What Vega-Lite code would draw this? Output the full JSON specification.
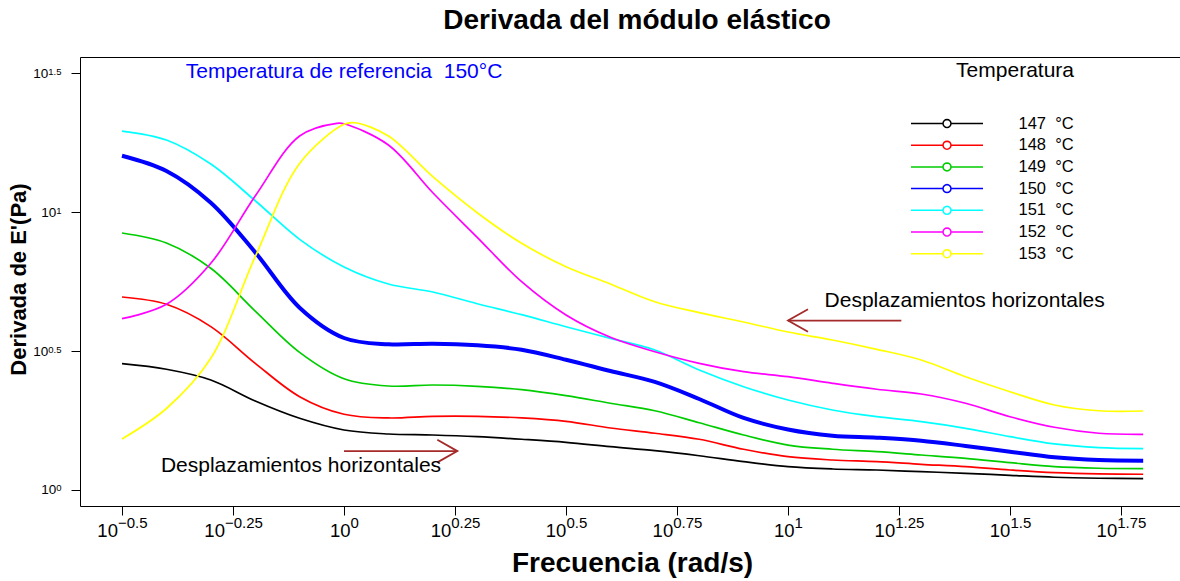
{
  "$schema": "https://vega.github.io/schema/vega-lite/v6.json",
  "autosize": {"type": "none"},
  "width": 1100,
  "height": 449,
  "padding": {"left": 80, "top": 57, "right": 0, "bottom": 75},
  "background": "white",
  "title": {
    "text": "Derivada del módulo elástico",
    "font": "Liberation Sans",
    "fontSize": 28,
    "fontWeight": "bold",
    "color": "black",
    "anchor": "middle",
    "frame": "group",
    "baseline": "alphabetic",
    "offset": 0,
    "dx": 7
  },
  "datasets": {
    "curves": [
      {"T":147,"f":0.3162,"d":2.847},{"T":147,"f":0.3981,"d":2.718},{"T":147,"f":0.5012,"d":2.487},{"T":147,"f":0.631,"d":2.090},{"T":147,"f":0.7943,"d":1.811},{"T":147,"f":1,"d":1.644},{"T":147,"f":1.2589,"d":1.590},{"T":147,"f":1.5849,"d":1.577},{"T":147,"f":1.9953,"d":1.555},{"T":147,"f":2.5119,"d":1.522},{"T":147,"f":3.1623,"d":1.484},{"T":147,"f":3.9811,"d":1.431},{"T":147,"f":5.0119,"d":1.385},{"T":147,"f":6.3096,"d":1.328},{"T":147,"f":7.9433,"d":1.264},{"T":147,"f":10,"d":1.213},{"T":147,"f":12.589,"d":1.190},{"T":147,"f":15.849,"d":1.180},{"T":147,"f":19.953,"d":1.164},{"T":147,"f":25.119,"d":1.148},{"T":147,"f":31.623,"d":1.129},{"T":147,"f":39.811,"d":1.111},{"T":147,"f":50.119,"d":1.102},{"T":147,"f":63.096,"d":1.098},
      {"T":148,"f":0.3162,"d":4.946},{"T":148,"f":0.3981,"d":4.656},{"T":148,"f":0.5012,"d":3.870},{"T":148,"f":0.631,"d":2.856},{"T":148,"f":0.7943,"d":2.166},{"T":148,"f":1,"d":1.872},{"T":148,"f":1.2589,"d":1.816},{"T":148,"f":1.5849,"d":1.841},{"T":148,"f":1.9953,"d":1.841},{"T":148,"f":2.5119,"d":1.816},{"T":148,"f":3.1623,"d":1.766},{"T":148,"f":3.9811,"d":1.671},{"T":148,"f":5.0119,"d":1.600},{"T":148,"f":6.3096,"d":1.522},{"T":148,"f":7.9433,"d":1.401},{"T":148,"f":10,"d":1.318},{"T":148,"f":12.589,"d":1.282},{"T":148,"f":15.849,"d":1.264},{"T":148,"f":19.953,"d":1.237},{"T":148,"f":25.119,"d":1.213},{"T":148,"f":31.623,"d":1.180},{"T":148,"f":39.811,"d":1.154},{"T":148,"f":50.119,"d":1.142},{"T":148,"f":63.096,"d":1.139},
      {"T":149,"f":0.3162,"d":8.405},{"T":149,"f":0.3981,"d":7.735},{"T":149,"f":0.5012,"d":6.274},{"T":149,"f":0.631,"d":4.404},{"T":149,"f":0.7943,"d":3.128},{"T":149,"f":1,"d":2.514},{"T":149,"f":1.2589,"d":2.366},{"T":149,"f":1.5849,"d":2.386},{"T":149,"f":1.9953,"d":2.360},{"T":149,"f":2.5119,"d":2.295},{"T":149,"f":3.1623,"d":2.184},{"T":149,"f":3.9811,"d":2.051},{"T":149,"f":5.0119,"d":1.928},{"T":149,"f":6.3096,"d":1.746},{"T":149,"f":7.9433,"d":1.577},{"T":149,"f":10,"d":1.451},{"T":149,"f":12.589,"d":1.401},{"T":149,"f":15.849,"d":1.373},{"T":149,"f":19.953,"d":1.336},{"T":149,"f":25.119,"d":1.300},{"T":149,"f":31.623,"d":1.254},{"T":149,"f":39.811,"d":1.213},{"T":149,"f":50.119,"d":1.197},{"T":149,"f":63.096,"d":1.193},
      {"T":150,"f":0.3162,"d":15.94},{"T":150,"f":0.3981,"d":14.05},{"T":150,"f":0.5012,"d":10.80},{"T":150,"f":0.631,"d":7.161},{"T":150,"f":0.7943,"d":4.527},{"T":150,"f":1,"d":3.522},{"T":150,"f":1.2589,"d":3.343},{"T":150,"f":1.5849,"d":3.360},{"T":150,"f":1.9953,"d":3.315},{"T":150,"f":2.5119,"d":3.197},{"T":150,"f":3.1623,"d":2.942},{"T":150,"f":3.9811,"d":2.680},{"T":150,"f":5.0119,"d":2.447},{"T":150,"f":6.3096,"d":2.125},{"T":150,"f":7.9433,"d":1.816},{"T":150,"f":10,"d":1.651},{"T":150,"f":12.589,"d":1.568},{"T":150,"f":15.849,"d":1.542},{"T":150,"f":19.953,"d":1.504},{"T":150,"f":25.119,"d":1.440},{"T":150,"f":31.623,"d":1.373},{"T":150,"f":39.811,"d":1.311},{"T":150,"f":50.119,"d":1.282},{"T":150,"f":63.096,"d":1.275},
      {"T":151,"f":0.3162,"d":19.56},{"T":151,"f":0.3981,"d":18.16},{"T":151,"f":0.5012,"d":14.88},{"T":151,"f":0.631,"d":10.98},{"T":151,"f":0.7943,"d":7.976},{"T":151,"f":1,"d":6.342},{"T":151,"f":1.2589,"d":5.508},{"T":151,"f":1.5849,"d":5.155},{"T":151,"f":1.9953,"d":4.678},{"T":151,"f":2.5119,"d":4.272},{"T":151,"f":3.1623,"d":3.867},{"T":151,"f":3.9811,"d":3.513},{"T":151,"f":5.0119,"d":3.189},{"T":151,"f":6.3096,"d":2.702},{"T":151,"f":7.9433,"d":2.353},{"T":151,"f":10,"d":2.107},{"T":151,"f":12.589,"d":1.940},{"T":151,"f":15.849,"d":1.835},{"T":151,"f":19.953,"d":1.761},{"T":151,"f":25.119,"d":1.667},{"T":151,"f":31.623,"d":1.555},{"T":151,"f":39.811,"d":1.464},{"T":151,"f":50.119,"d":1.420},{"T":151,"f":63.096,"d":1.408},
      {"T":152,"f":0.3162,"d":4.133},{"T":152,"f":0.3981,"d":4.656},{"T":152,"f":0.5012,"d":6.540},{"T":152,"f":0.631,"d":11.42},{"T":152,"f":0.7943,"d":18.77},{"T":152,"f":0.963,"d":20.85},{"T":152,"f":1,"d":20.78},{"T":152,"f":1.2589,"d":17.42},{"T":152,"f":1.5849,"d":11.73},{"T":152,"f":1.9953,"d":8.110},{"T":152,"f":2.5119,"d":5.614},{"T":152,"f":3.1623,"d":4.261},{"T":152,"f":3.9811,"d":3.542},{"T":152,"f":5.0119,"d":3.144},{"T":152,"f":6.3096,"d":2.856},{"T":152,"f":7.9433,"d":2.664},{"T":152,"f":10,"d":2.556},{"T":152,"f":12.589,"d":2.420},{"T":152,"f":15.849,"d":2.303},{"T":152,"f":19.953,"d":2.215},{"T":152,"f":25.119,"d":2.051},{"T":152,"f":31.623,"d":1.835},{"T":152,"f":39.811,"d":1.681},{"T":152,"f":50.119,"d":1.600},{"T":152,"f":63.096,"d":1.586},
      {"T":153,"f":0.3162,"d":1.526},{"T":153,"f":0.3981,"d":1.964},{"T":153,"f":0.5012,"d":2.976},{"T":153,"f":0.631,"d":6.906},{"T":153,"f":0.7943,"d":14.96},{"T":153,"f":1,"d":20.68},{"T":153,"f":1.0588,"d":20.95},{"T":153,"f":1.2589,"d":18.77},{"T":153,"f":1.5849,"d":13.40},{"T":153,"f":1.9953,"d":9.943},{"T":153,"f":2.5119,"d":7.716},{"T":153,"f":3.1623,"d":6.357},{"T":153,"f":3.9811,"d":5.508},{"T":153,"f":5.0119,"d":4.756},{"T":153,"f":6.3096,"d":4.344},{"T":153,"f":7.9433,"d":4.021},{"T":153,"f":10,"d":3.701},{"T":153,"f":12.589,"d":3.464},{"T":153,"f":15.849,"d":3.207},{"T":153,"f":19.953,"d":2.935},{"T":153,"f":25.119,"d":2.556},{"T":153,"f":31.623,"d":2.257},{"T":153,"f":39.811,"d":2.022},{"T":153,"f":50.119,"d":1.928},{"T":153,"f":63.096,"d":1.924}
    ],
    "arrows": [
      {"f": 1, "f2": 1.8, "d": 1.38},
      {"f": 18, "f2": 10, "d": 4.07}
    ],
    "notes": [
      {"f": 0.8, "d": 1.22, "txt": "Desplazamientos horizontales"},
      {"f": 25, "d": 4.8, "txt": "Desplazamientos horizontales"}
    ],
    "reference": [
      {"f": 1, "d": 31.9, "txt": "Temperatura de referencia \u00a0150°C"}
    ]
  },
  "encoding": {
    "x": {"field": "f", "type": "quantitative", "scale": {"type": "log", "domain": [0.2543, 76.37], "nice": false, "zero": false}, "axis": null},
    "y": {"field": "d", "type": "quantitative", "scale": {"type": "log", "domain": [0.8757, 36.12], "nice": false, "zero": false}, "axis": null}
  },
  "layer": [
    {
      "data": {"name": "curves"},
      "mark": {"type": "line", "interpolate": "catmull-rom"},
      "encoding": {
        "x": {
          "field": "f", "type": "quantitative",
          "scale": {"type": "log", "domain": [0.2543, 76.37], "nice": false, "zero": false},
          "axis": {
            "orient": "bottom",
            "values": [0.316228, 0.562341, 1, 1.778279, 3.162278, 5.623413, 10, 17.78279, 31.62278, 56.23413],
            "domain": false, "grid": false,
            "ticks": true, "tickSize": 9, "tickColor": "black", "tickWidth": 1,
            "labelExpr": "'10'",
            "labelFont": "Liberation Sans", "labelFontSize": 18.5, "labelColor": "black",
            "labelAlign": "right", "labelBaseline": "alphabetic", "labelPadding": 21.7,
            "labelOffset": {"condition": [
              {"test": "datum.value < 0.4", "value": -4.6},
              {"test": "datum.value < 0.7", "value": -8.6},
              {"test": "datum.value == 1 || datum.value == 10", "value": 6.1},
              {"test": "(datum.value > 3 && datum.value < 3.3) || (datum.value > 31 && datum.value < 32)", "value": -0.1}
            ], "value": -4.3},
            "labelFlush": false, "labelOverlap": false, "labelBound": false,
            "title": "Frecuencia (rad/s)",
            "titleFont": "Liberation Sans", "titleFontSize": 28, "titleFontWeight": "bold", "titleColor": "black",
            "titleX": 552, "titleY": 65, "titleBaseline": "alphabetic", "titleAlign": "center"
          }
        },
        "y": {
          "field": "d", "type": "quantitative",
          "scale": {"type": "log", "domain": [0.8757, 36.12], "nice": false, "zero": false},
          "axis": {
            "orient": "left",
            "values": [1, 3.162278, 10, 31.62278],
            "domain": false, "grid": false,
            "ticks": true, "tickSize": 9, "tickColor": "black", "tickWidth": 1,
            "labelExpr": "'10'",
            "labelFont": "Liberation Sans", "labelFontSize": 13.5, "labelColor": "black",
            "labelAlign": "right", "labelBaseline": "middle",
            "labelPadding": {"condition": {"test": "datum.value == 1 || datum.value == 10", "value": 15.3}, "value": 23.2},
            "labelFlush": false, "labelOverlap": false, "labelBound": false,
            "title": "Derivada de E'(Pa)",
            "titleFont": "Liberation Sans", "titleFontSize": 22, "titleFontWeight": "bold", "titleColor": "black",
            "titleAngle": -90, "titleX": -55, "titleY": 222, "titleBaseline": "alphabetic", "titleAlign": "center"
          }
        },
        "color": {
          "field": "T", "type": "nominal",
          "scale": {"domain": [147, 148, 149, 150, 151, 152, 153], "range": ["#000000", "#FF0000", "#00CD00", "#0000FF", "#00FFFF", "#FF00FF", "#FFFF00"]},
          "legend": {
            "orient": "none", "legendX": 857, "legendY": 3,
            "direction": "vertical",
            "title": "Temperatura",
            "titleFont": "Liberation Sans", "titleFontSize": 21, "titleFontWeight": "normal", "titleColor": "black",
            "titleAnchor": "end", "titlePadding": 32.5, "titleBaseline": "top",
            "symbolType": "M-4,0H-0.444M0.444,0L0.41,0.17L0.314,0.314L0.17,0.41L0,0.444L-0.17,0.41L-0.314,0.314L-0.41,0.17L-0.444,0L-0.41,-0.17L-0.314,-0.314L-0.17,-0.41L0,-0.444L0.17,-0.41L0.314,-0.314L0.41,-0.17ZM0.444,0H4",
            "symbolSize": 324, "symbolStrokeWidth": 1.5, "symbolFillColor": "transparent", "symbolOpacity": 1,
            "labelFont": "Liberation Sans", "labelFontSize": 16.5, "labelColor": "black", "labelOffset": 61.5,
            "labelExpr": "datum.label + ' \u00a0°C'",
            "rowPadding": 2.7, "padding": 0
          }
        },
        "strokeWidth": {"condition": {"test": "datum.T == 150", "value": 4}, "value": 1.7}
      }
    },
    {
      "data": {"name": "arrows"},
      "mark": {"type": "rule", "color": "#A52A2A", "strokeWidth": 1.8},
      "encoding": {
        "x": {
          "field": "f", "type": "quantitative",
          "scale": {"type": "log", "domain": [0.2543, 76.37], "nice": false, "zero": false},
          "axis": {
            "orient": "bottom",
            "values": [0.316228, 0.562341, 1, 1.778279, 3.162278, 5.623413, 10, 17.78279, 31.62278, 56.23413],
            "domain": false, "grid": false, "ticks": false,
            "labelExpr": "format(round(log(datum.value)/LN10*100)/100, '')",
            "labelFont": "Liberation Sans", "labelFontSize": 15, "labelColor": "black",
            "labelAlign": "left", "labelBaseline": "alphabetic", "labelPadding": 21.3,
            "labelOffset": {"condition": [
              {"test": "datum.value < 0.4", "value": -4.6},
              {"test": "datum.value < 0.7", "value": -8.6},
              {"test": "datum.value == 1 || datum.value == 10", "value": 6.1},
              {"test": "(datum.value > 3 && datum.value < 3.3) || (datum.value > 31 && datum.value < 32)", "value": -0.1}
            ], "value": -4.3},
            "labelFlush": false, "labelOverlap": false, "labelBound": false,
            "title": null
          }
        },
        "x2": {"field": "f2"},
        "y": {
          "field": "d", "type": "quantitative",
          "scale": {"type": "log", "domain": [0.8757, 36.12], "nice": false, "zero": false},
          "axis": {
            "orient": "left",
            "values": [1, 3.162278, 10, 31.62278],
            "domain": false, "grid": false, "ticks": false,
            "labelExpr": "format(round(log(datum.value)/LN10*100)/100, '')",
            "labelFont": "Liberation Sans", "labelFontSize": 9.5, "labelColor": "black",
            "labelAlign": "right", "labelBaseline": "alphabetic", "labelPadding": 19, "labelOffset": 1,
            "labelFlush": false, "labelOverlap": false, "labelBound": false,
            "title": null
          }
        }
      }
    },
    {
      "data": {"name": "arrows"},
      "mark": {"type": "point", "filled": false, "color": "#A52A2A", "strokeWidth": 1.8, "opacity": 1, "size": 1600},
      "encoding": {
        "x": {"field": "f2", "type": "quantitative"},
        "shape": {"condition": {"test": "datum.f2 > datum.f", "value": "M-1,-0.565L0,0L-1,0.565"}, "value": "M1,-0.565L0,0L1,0.565"}
      }
    },
    {
      "data": {"name": "notes"},
      "mark": {"type": "text", "font": "Liberation Sans", "fontSize": 21, "color": "black", "align": "center", "baseline": "middle"},
      "encoding": {"text": {"field": "txt"}}
    },
    {
      "data": {"name": "reference"},
      "mark": {"type": "text", "font": "Liberation Sans", "fontSize": 21, "color": "#0000FF", "align": "center", "baseline": "middle"},
      "encoding": {"text": {"field": "txt"}}
    }
  ],
  "resolve": {"axis": {"x": "independent", "y": "independent"}},
  "config": {
    "font": "Liberation Sans",
    "view": {"stroke": "black", "strokeWidth": 1}
  }
}
